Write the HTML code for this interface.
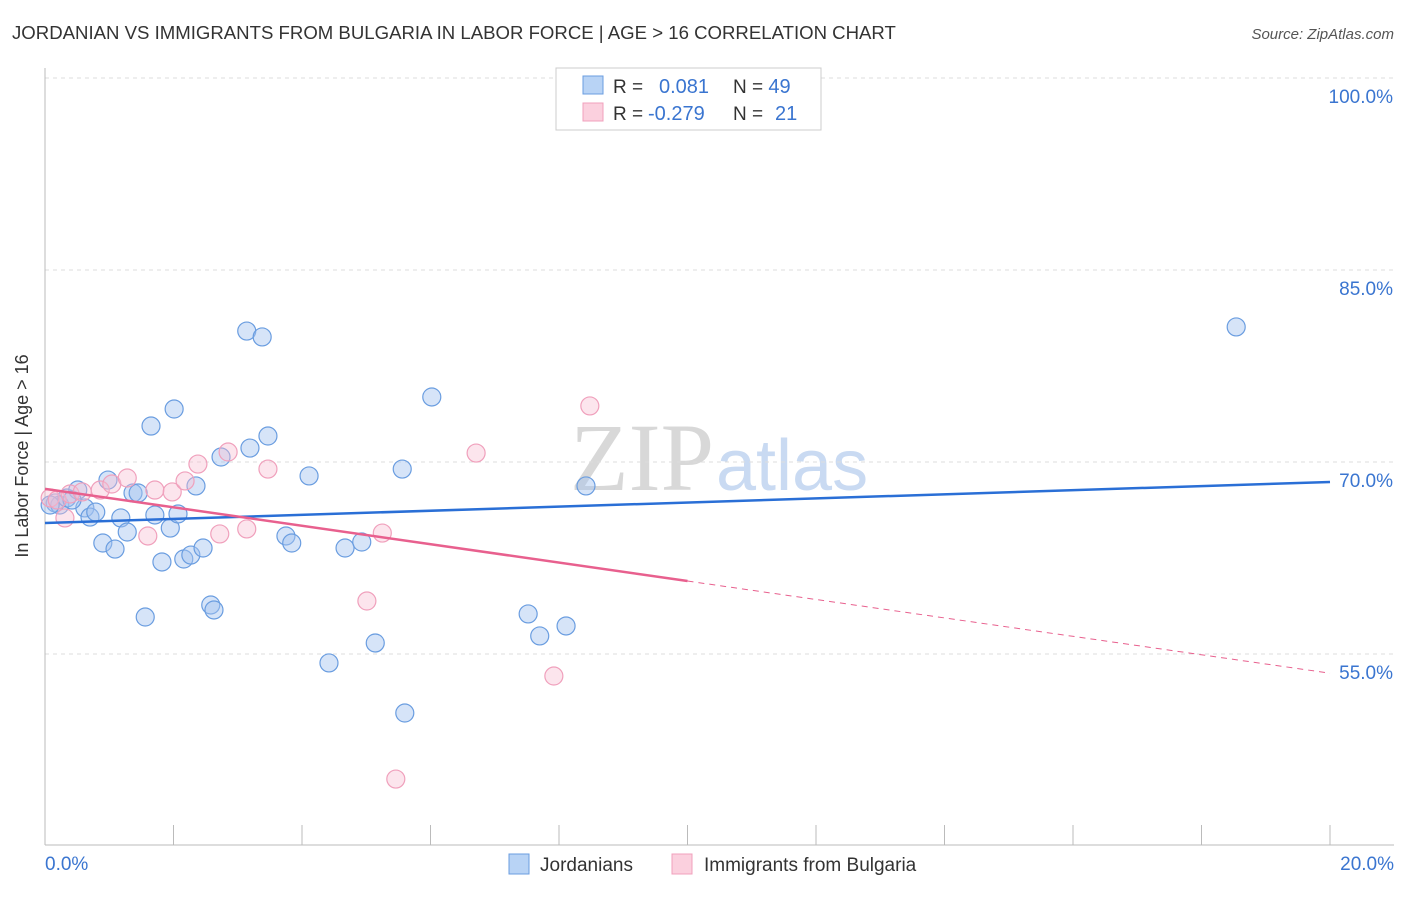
<!DOCTYPE html>
<html><head><meta charset="utf-8"><style>
body{margin:0;background:#fff;font-family:"Liberation Sans",sans-serif;}
</style></head><body>
<svg width="1406" height="892" xmlns="http://www.w3.org/2000/svg" id="chart">
<text x="12" y="39" font-size="18.6" fill="#333">JORDANIAN VS IMMIGRANTS FROM BULGARIA IN LABOR FORCE | AGE &gt; 16 CORRELATION CHART</text>
<text x="1394" y="39" font-size="15" fill="#555" font-style="italic" text-anchor="end">Source: ZipAtlas.com</text>
<text x="714" y="490" font-size="96" font-family="Liberation Serif,serif" fill="#d8d8d8" text-anchor="end">ZIP</text>
<text x="716" y="490" font-size="72" fill="#c9daf2">atlas</text>
<g id="grid"></g>
<line x1="45" y1="68" x2="45" y2="845" stroke="#bbb"/>
<line x1="45" y1="845" x2="1394" y2="845" stroke="#bbb"/>
<g id="xticks"></g>
<text x="28" y="456" font-size="18" fill="#333" text-anchor="middle" transform="rotate(-90 28 456)">In Labor Force | Age &gt; 16</text>
<text x="45" y="870" font-size="19" fill="#3a75d0">0.0%</text>
<text x="1394" y="870" font-size="19" fill="#3a75d0" text-anchor="end">20.0%</text>
<g id="pts"></g>
<g id="lines"></g>
<g>
<rect x="556" y="68" width="265" height="62" fill="#fff" stroke="#ccc"/>
<rect x="583" y="76" width="20" height="18" fill="#b8d3f5" stroke="#6a9de0"/>
<rect x="583" y="103" width="20" height="18" fill="#fbd0de" stroke="#f0a0bc"/>
<text x="613" y="93" font-size="19" fill="#333">R = <tspan fill="#3a75d0" x="659" font-size="20">0.081</tspan><tspan x="733">N = </tspan><tspan fill="#3a75d0" font-size="20">49</tspan></text>
<text x="613" y="120" font-size="19" fill="#333">R = <tspan fill="#3a75d0" x="648" font-size="20">-0.279</tspan><tspan x="733">N = </tspan><tspan fill="#3a75d0" x="775" font-size="20">21</tspan></text>
</g>
<g>
<rect x="509" y="854" width="20" height="20" fill="#b8d3f5" stroke="#6a9de0"/>
<text x="540" y="871" font-size="19" fill="#333">Jordanians</text>
<rect x="672" y="854" width="20" height="20" fill="#fbd0de" stroke="#f0a0bc"/>
<text x="704" y="871" font-size="19" fill="#333">Immigrants from Bulgaria</text>
</g>
</svg>
<script>
const blueX=[.16,.23,.34,.51,.62,.70,.79,.90,.98,1.09,1.18,1.28,1.37,1.45,1.56,1.65,1.71,1.82,1.95,2.01,2.07,2.16,2.27,2.35,2.46,2.58,2.63,2.74,3.14,3.19,3.38,3.47,3.75,3.84,4.11,4.42,4.67,4.93,5.14,5.56,5.60,6.02,7.52,7.70,8.11,8.42,18.54,.08,.42];
const blueY=[66.8,66.64,67.19,67.81,66.41,65.7,66.09,63.67,68.59,63.2,65.63,64.53,67.58,67.58,57.89,72.81,65.86,62.19,64.84,74.14,65.94,62.42,62.73,68.13,63.28,58.83,58.44,70.39,80.23,71.09,79.77,72.03,64.22,63.67,68.91,54.3,63.28,63.75,55.86,69.45,50.39,75.08,58.13,56.41,57.19,68.13,80.55,66.64,67.03];
const pinkX=[.08,.19,.31,.39,.58,.86,1.04,1.28,1.6,1.71,1.98,2.18,2.38,2.72,2.85,3.14,3.47,5.01,5.25,5.46,6.71,7.92,8.48];
const pinkY=[67.19,67.03,65.63,67.5,67.66,67.81,68.28,68.75,64.22,67.81,67.66,68.52,69.84,64.38,70.78,64.77,69.45,59.14,64.45,45.23,70.7,53.28,74.38];
const yTicks=[100,85,70,55];
const yTickLabels=["100.0%","85.0%","70.0%","55.0%"];
const xTicks=[0,2,4,6,8,10,12,14,16,18,20];
const blueTrend=[65.23,68.44];
const pinkTrend=[67.9,53.5];
const pinkSolidEnd=10;
const NS="http://www.w3.org/2000/svg";
const sx=v=>45+v/20*1285, sy=v=>78+(100-v)*12.8;
function mk(t,a,p){const e=document.createElementNS(NS,t);for(const k in a)e.setAttribute(k,a[k]);document.getElementById(p).appendChild(e);return e;}
yTicks.forEach((t,i)=>{
 const l=mk('line',{x1:45,x2:1394,y1:sy(t),y2:sy(t),stroke:'#ddd','stroke-dasharray':'4 4'},'grid');
 
 
 const tx=mk('text',{x:1393,y:sy(t)+25,'font-size':19,fill:'#3a75d0','text-anchor':'end'},'grid');
 tx.textContent=yTickLabels[i];
 
 
});
xTicks.forEach(t=>{
 const l=mk('line',{x1:sx(t),x2:sx(t),y1:825,y2:845,stroke:'#bbb'},'xticks');
 
 
});
blueX.forEach((x,i)=>{
 const c=mk('circle',{cx:sx(x),cy:sy(blueY[i]),r:9,fill:'rgba(164,196,240,0.45)',stroke:'#6a9de0','stroke-width':1.2},'pts');
 
 
});
pinkX.forEach((x,i)=>{
 const c=mk('circle',{cx:sx(x),cy:sy(pinkY[i]),r:9,fill:'rgba(248,190,210,0.4)',stroke:'#f0a0bc','stroke-width':1.2},'pts');
 
 
});
const bl=mk('line',{x1:sx(0),y1:sy(blueTrend[0]),x2:sx(20),y2:sy(blueTrend[1]),stroke:'#2a6fd6','stroke-width':2.5},'lines');


const pAt=x=>pinkTrend[0]+(pinkTrend[1]-pinkTrend[0])*x/20;
const pl=mk('line',{x1:sx(0),y1:sy(pinkTrend[0]),x2:sx(pinkSolidEnd),y2:sy(pAt(pinkSolidEnd)),stroke:'#e8608e','stroke-width':2.5},'lines');


const pd=mk('line',{x1:sx(pinkSolidEnd),y1:sy(pAt(pinkSolidEnd)),x2:sx(20),y2:sy(pinkTrend[1]),stroke:'#e8608e','stroke-width':1,'stroke-dasharray':'6 5'},'lines');


</script>
</body></html>
